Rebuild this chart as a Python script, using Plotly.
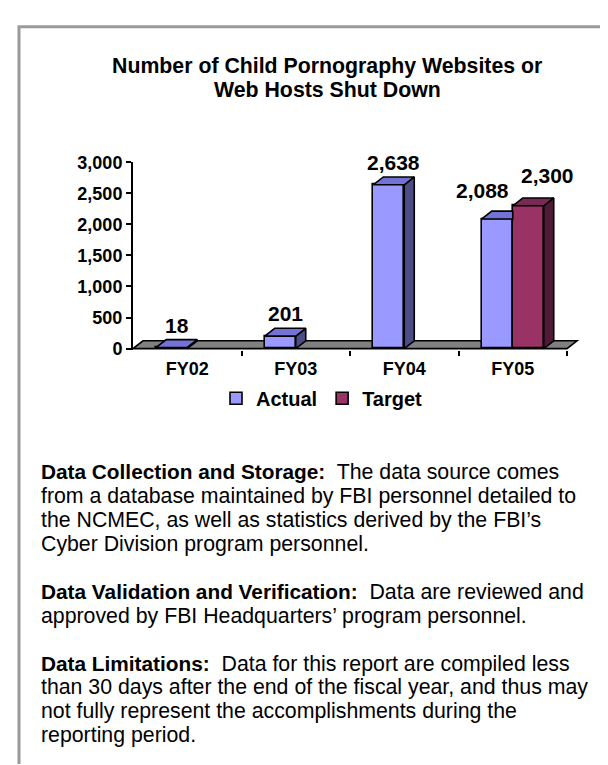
import plotly.graph_objects as go

# ---------------- data ----------------
categories = ["FY02", "FY03", "FY04", "FY05"]
actual = [18, 201, 2638, 2088]
target = [None, None, None, 2300]
y_ticks = [0, 500, 1000, 1500, 2000, 2500, 3000]

title_lines = ["Number of Child Pornography Websites or", "Web Hosts Shut Down"]
paragraphs = [
    [("Data Collection and Storage:", "The data source comes"),
     ("", "from a database maintained by FBI personnel detailed to"),
     ("", "the NCMEC, as well as statistics derived by the FBI\u2019s"),
     ("", "Cyber Division program personnel.")],
    [("Data Validation and Verification:", "Data are reviewed and"),
     ("", "approved by FBI Headquarters\u2019 program personnel.")],
    [("Data Limitations:", "Data for this report are compiled less"),
     ("", "than 30 days after the end of the fiscal year, and thus may"),
     ("", "not fully represent the accomplishments during the"),
     ("", "reporting period.")],
]

# ---------------- styling / geometry ----------------
W, H = 608, 765
FONT = "Liberation Sans, Arial, Helvetica, sans-serif"
COL_A = dict(front="#9999FF", top="#7373D6", side="#4C4C87")
COL_T = dict(front="#993366", top="#7A2952", side="#4E1A36")
TITLE_SIZE = 21.3
BODY_SIZE = 21.3
BODY_BOLD_SIZE = 20.8

x_left_px, x_unit_px = 125, 108.5
y_zero_px, y_top_px = 339, 148
n = len(categories)
x_range = [-0.5, n - 0.5 + 0.12]
y_max = y_ticks[-1]
px_per_unit = (y_zero_px - y_top_px) / y_max
y_range = [-25, y_max]
plot_w_px = (x_range[1] - x_range[0]) * x_unit_px
dom_x = [x_left_px / W, (x_left_px + plot_w_px) / W]
dom_y = [1 - (y_zero_px - y_range[0] * px_per_unit) / H, 1 - y_top_px / H]

bw = 31 / x_unit_px          # bar width in category units
dx = 10 / x_unit_px          # depth offset (x)
dy = 8 / px_per_unit         # depth offset (y)

idx = list(range(n))
fig = go.Figure()

# front faces (bars)
fig.add_trace(go.Bar(x=idx, y=actual, width=bw, offset=-bw, name="Actual",
                     marker=dict(color=COL_A["front"], line=dict(color="black", width=1.6)),
                     hoverinfo="skip"))
t_idx = [i for i in idx if target[i] is not None]
fig.add_trace(go.Bar(x=t_idx, y=[target[i] for i in t_idx], width=bw, offset=0, name="Target",
                     marker=dict(color=COL_T["front"], line=dict(color="black", width=1.6)),
                     hoverinfo="skip"))


def faces(series, offset, hidden_side_by=None):
    sx, sy, tx, ty = [], [], [], []
    for i, v in enumerate(series):
        if v is None:
            continue
        x0 = i + offset
        x1 = x0 + bw
        covered = hidden_side_by is not None and hidden_side_by[i] is not None
        if not covered:
            sx += [x1, x1 + dx, x1 + dx, x1, x1, None]
            sy += [0, dy, v + dy, v, 0, None]
            tx += [x0, x0 + dx, x1 + dx, x1, x0, None]
            ty += [v, v + dy, v + dy, v, v, None]
        else:
            tx += [x0, x0 + dx, x1, x1, x0, None]
            ty += [v, v + dy, v + dy, v, v, None]
    return sx, sy, tx, ty


for series, off, cols, hid in [(actual, -bw, COL_A, target), (target, 0, COL_T, None)]:
    sx, sy, tx, ty = faces(series, off, hid)
    if sx:
        fig.add_trace(go.Scatter(x=sx, y=sy, mode="lines", fill="toself", fillcolor=cols["side"],
                                 line=dict(color="black", width=1.6), showlegend=False, hoverinfo="skip"))
    fig.add_trace(go.Scatter(x=tx, y=ty, mode="lines", fill="toself", fillcolor=cols["top"],
                             line=dict(color="black", width=1.6), showlegend=False, hoverinfo="skip"))

# floor (3D base)
x_a, x_b = -0.5, n - 0.5
floor_path = f"M {x_a},0 L {x_b},0 L {x_b + dx},{dy} L {x_a + dx},{dy} Z"
shapes = [dict(type="path", path=floor_path, xref="x", yref="y", layer="below",
               fillcolor="#808080", line=dict(color="black", width=1.6))]

# page frame
shapes.append(dict(type="path", xref="paper", yref="paper",
                   path=f"M {11/W},0 L {11/W},{1-9/H} L {606/W},{1-9/H} L {606/W},0",
                   line=dict(color="#9A9A9A", width=3)))

annotations = []
# data labels (pushed apart when two bars share a category)
for i in idx:
    both = target[i] is not None
    for series, off, xs, ys in [(actual, -bw, -20 if both else 0, 6 if both else 0),
                                (target, 0, 14, 8)]:
        v = series[i]
        if v is None:
            continue
        annotations.append(dict(x=i + off + bw / 2 + dx / 2, y=v + dy, xref="x", yref="y",
                                text=f"{v:,}", showarrow=False, yanchor="bottom",
                                yshift=1 + ys, xshift=xs,
                                font=dict(family=FONT, size=21, color="black", weight="bold")))

# title
for k, line in enumerate(title_lines):
    annotations.append(dict(x=319 / W, y=1 - (49 + 25 * k) / H, xref="paper", yref="paper",
                            text=f"<b>{line}</b>", showarrow=False, xanchor="center", yanchor="middle",
                            font=dict(family=FONT, size=TITLE_SIZE, color="black")))

# body text
row = 0
for p in paragraphs:
    for head, rest in p:
        if head:
            txt = (f'<span style="font-size:{BODY_BOLD_SIZE}px"><b>{head}</b></span>'
                   f"\u00a0 {rest}")
        else:
            txt = rest
        annotations.append(dict(x=31 / W, y=1 - (466 + 24.5 * row) / H, xref="paper", yref="paper",
                                text=txt, showarrow=False, xanchor="left", yanchor="middle",
                                align="left", font=dict(family=FONT, size=BODY_SIZE, color="black")))
        row += 1
    row += 1

fig.update_layout(
    width=W, height=H, margin=dict(l=0, r=0, t=0, b=0),
    paper_bgcolor="white", plot_bgcolor="white",
    barmode="overlay", bargap=0,
    showlegend=True,
    legend=dict(orientation="h", x=314 / W, xanchor="center", y=1 - 390 / H, yanchor="middle",
                font=dict(family=FONT, size=20, color="black", weight="bold"),
                itemwidth=30, bgcolor="rgba(0,0,0,0)", tracegroupgap=0),
    xaxis=dict(domain=dom_x, range=x_range, tickvals=idx, ticktext=categories, ticks="",
               showline=False, showgrid=False, zeroline=False, ticklabelstandoff=6,
               tickfont=dict(family=FONT, size=18, color="black", weight="bold"),
               minor=dict(tickvals=[i + 0.5 for i in idx], ticks="outside", ticklen=5,
                          tickwidth=2, tickcolor="black", showgrid=False)),
    yaxis=dict(domain=dom_y, range=y_range, tickvals=y_ticks, tickformat=",", ticks="outside",
               ticklen=5, tickwidth=2, tickcolor="black", showline=True, linecolor="black",
               linewidth=2, showgrid=False, zeroline=False,
               tickfont=dict(family=FONT, size=18, color="black", weight="bold")),
    shapes=shapes, annotations=annotations,
)

fig.write_html("out.html")
